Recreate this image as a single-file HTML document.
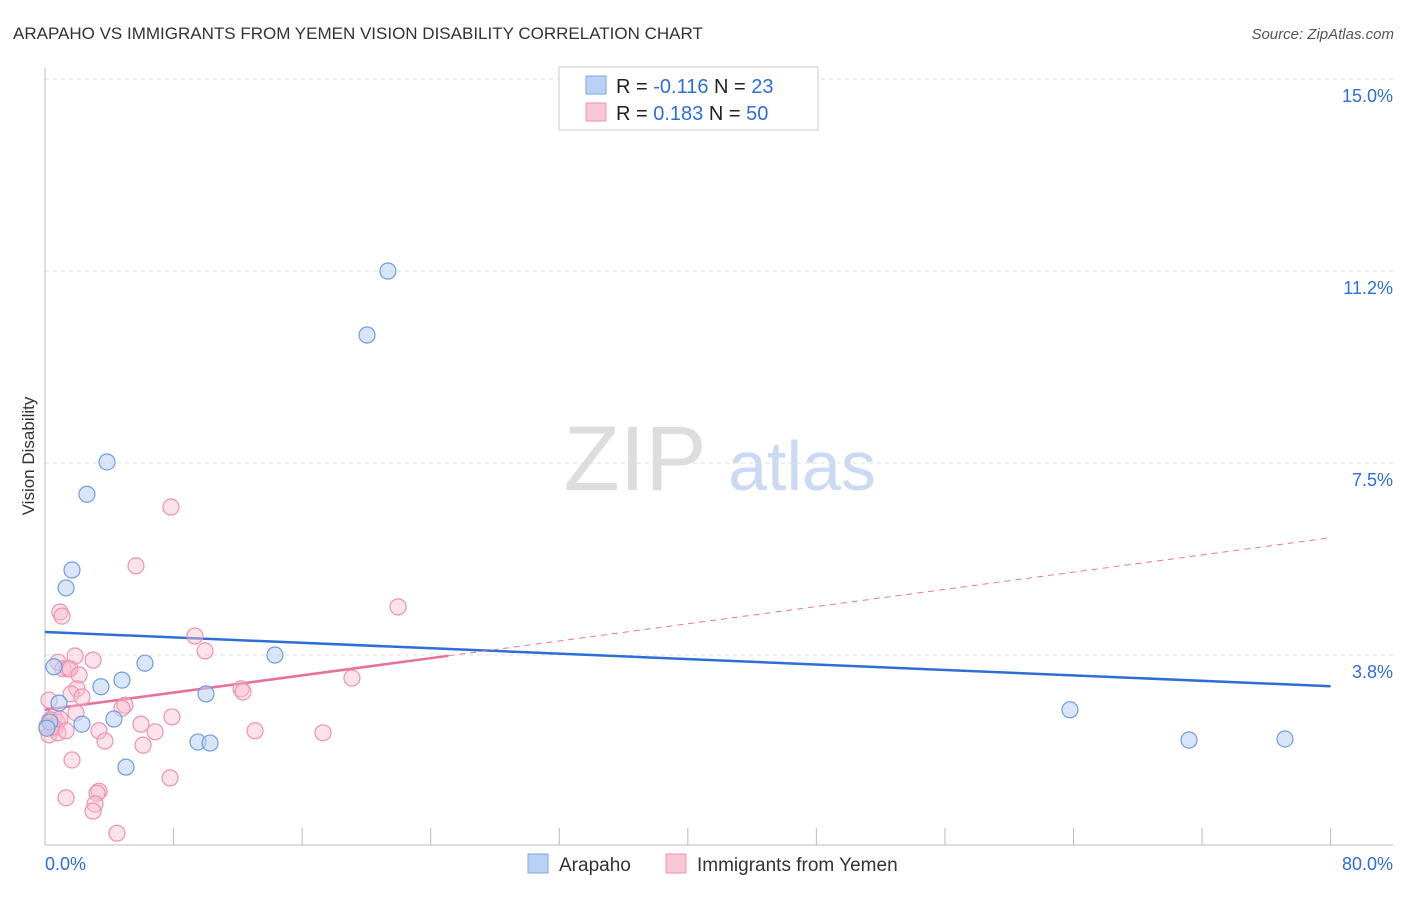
<!DOCTYPE html>
<html><head><meta charset="utf-8"><style>
body{margin:0;background:#fff;font-family:"Liberation Sans",sans-serif;}
svg text{font-family:"Liberation Sans",sans-serif;}
</style></head><body>
<svg id="chart" width="1406" height="892" viewBox="0 0 1406 892" xmlns="http://www.w3.org/2000/svg">
<text x="13" y="39" font-size="17" fill="#333">ARAPAHO VS IMMIGRANTS FROM YEMEN VISION DISABILITY CORRELATION CHART</text>
<text x="1394" y="39" font-size="15" fill="#555" font-style="italic" text-anchor="end">Source: ZipAtlas.com</text>
<text x="34" y="456" font-size="17" fill="#333" text-anchor="middle" transform="rotate(-90 34 456)">Vision Disability</text>
<g><text x="635" y="490" font-size="92" fill="#ddd" font-family="Liberation Serif" text-anchor="middle">ZIP</text><text x="802" y="490" font-size="70" fill="#c9daf2" text-anchor="middle">atlas</text></g>
<g id="grid"></g><g id="axes"></g><g id="trends"></g><g id="points"></g>
<g>
<rect x="559" y="67" width="259" height="63" fill="#fff" stroke="#ccc"/>
<rect x="586" y="76" width="20" height="18" fill="#b9d1f5" stroke="#7aa6e6"/>
<rect x="586" y="103" width="20" height="18" fill="#f9c6d4" stroke="#eb93ad"/>
<text x="616" y="93" font-size="20" fill="#222">R = <tspan fill="#2d6fd6">-0.116</tspan>   N = <tspan fill="#2d6fd6">23</tspan></text>
<text x="616" y="120" font-size="20" fill="#222">R =  <tspan fill="#2d6fd6">0.183</tspan>   N = <tspan fill="#2d6fd6">50</tspan></text>
</g>
<g>
<rect x="528" y="854" width="20" height="19" fill="#b9d1f5" stroke="#7aa6e6"/>
<text x="559" y="871" font-size="19" fill="#333">Arapaho</text>
<rect x="666" y="854" width="20" height="19" fill="#f9c6d4" stroke="#eb93ad"/>
<text x="697" y="871" font-size="19" fill="#333">Immigrants from Yemen</text>
</g>
</svg>
<script>
const yTicks=[3.75,7.5,11.25,15];
const yTickLabels=["3.8%","7.5%","11.2%","15.0%"];
const xTickLabels=["0.0%","80.0%"];
const blueX=[21.34,20.04,3.86,2.61,1.68,1.31,0.56,6.22,4.79,3.48,0.87,2.30,4.29,10.02,14.31,9.52,10.27,5.04,63.78,71.19,77.16,0.3,0.12];
const blueY=[11.25,10.0,7.52,6.89,5.41,5.06,3.52,3.59,3.26,3.13,2.81,2.40,2.50,2.99,3.75,2.05,2.03,1.56,2.68,2.09,2.11,2.44,2.32];
const pinkX=[7.84,5.66,21.97,0.93,1.06,9.33,9.96,1.87,2.99,0.81,1.12,1.43,1.56,2.12,19.1,1.99,12.2,12.32,1.62,2.30,0.25,4.98,4.79,1.93,0.56,7.90,0.31,0.75,5.97,0.12,0.62,3.36,6.85,13.07,17.3,0.25,0.81,3.73,6.10,1.68,7.78,3.36,3.24,1.31,3.11,2.99,4.48,0.44,0.93,1.31];
const pinkY=[6.64,5.49,4.69,4.59,4.51,4.12,3.83,3.73,3.65,3.61,3.48,3.48,3.48,3.36,3.30,3.09,3.09,3.03,2.99,2.93,2.87,2.77,2.71,2.62,2.54,2.54,2.48,2.44,2.40,2.36,2.32,2.27,2.25,2.27,2.23,2.19,2.23,2.07,1.99,1.70,1.35,1.09,1.05,0.96,0.84,0.70,0.27,2.34,2.50,2.27];
const blueTrend=[4.20,3.14];
const pinkTrend=[2.68,6.04];
const pinkSolidEnd=25.1;
const NS="http://www.w3.org/2000/svg";
const X=v=>45+v*16.07, Y=v=>847-v*51.2;
function mk(t,a,p){const e=document.createElementNS(NS,t);for(const k in a)e.setAttribute(k,a[k]);p.appendChild(e);return e;}
const grid=document.getElementById('grid'),axes=document.getElementById('axes'),tr=document.getElementById('trends'),pts=document.getElementById('points');
yTicks.forEach((t,i)=>{
 const l=mk('line',{x1:45,x2:1393,y1:Y(t),y2:Y(t),stroke:'#ddd','stroke-dasharray':'4,4'},grid);
 
 
 const tx=mk('text',{x:1393,y:Y(t)+23,'font-size':18,fill:'#2d6fd6','text-anchor':'end'},axes);
 tx.textContent=yTickLabels[i];
 
 
});
mk('line',{x1:45,x2:45,y1:68,y2:845,stroke:'#bbb'},axes);
mk('line',{x1:45,x2:1393,y1:845,y2:845,stroke:'#bbb'},axes);
for(let i=0;i<=10;i++){mk('line',{x1:X(i*8),x2:X(i*8),y1:828,y2:845,stroke:'#bbb'},axes);}
const xl0=mk('text',{x:45,y:870,'font-size':18,fill:'#2d6fd6'},axes);xl0.textContent=xTickLabels[0];


const xl1=mk('text',{x:1393,y:870,'font-size':18,fill:'#2d6fd6','text-anchor':'end'},axes);xl1.textContent=xTickLabels[1];


const bt=mk('line',{x1:X(0),y1:Y(blueTrend[0]),x2:X(80),y2:Y(blueTrend[1]),stroke:'#2d6fd6','stroke-width':2.5},tr);


const pAt=v=>pinkTrend[0]+(pinkTrend[1]-pinkTrend[0])*v/80;
const pd=mk('line',{x1:X(pinkSolidEnd),y1:Y(pAt(pinkSolidEnd)),x2:X(80),y2:Y(pinkTrend[1]),stroke:'#e8789d','stroke-width':1,'stroke-dasharray':'6,5'},tr);


const ps=mk('line',{x1:X(0),y1:Y(pinkTrend[0]),x2:X(pinkSolidEnd),y2:Y(pAt(pinkSolidEnd)),stroke:'#e8709a','stroke-width':2.5},tr);


pinkX.forEach((x,i)=>{const c=mk('circle',{cx:X(x),cy:Y(pinkY[i]),r:8,fill:'rgba(248,190,208,0.45)',stroke:'#eb93ad','stroke-width':1.2},pts);
 
 });
blueX.forEach((x,i)=>{const c=mk('circle',{cx:X(x),cy:Y(blueY[i]),r:8,fill:'rgba(185,209,245,0.55)',stroke:'#6f9de0','stroke-width':1.2},pts);
 
 });
</script>
</body></html>
